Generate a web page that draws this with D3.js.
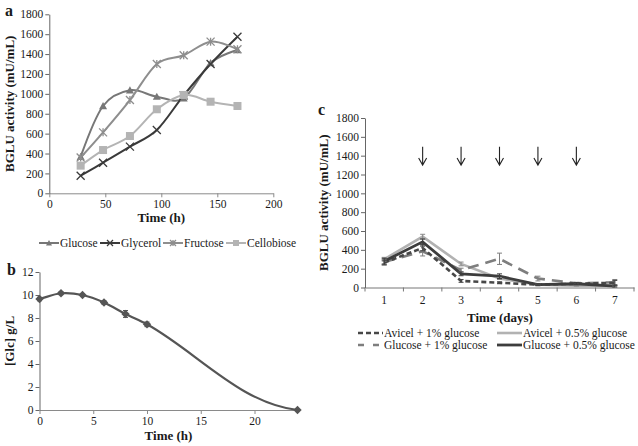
<!DOCTYPE html>
<html><head><meta charset="utf-8">
<script src="https://cdn.jsdelivr.net/npm/d3@7"></script>
<style>
body{margin:0;background:#fff}
text{font-family:"Liberation Serif","Times New Roman",serif;fill:#1a1a1a}
</style>
</head><body>
<svg id="chart" width="638" height="446"></svg>
<script>
// ---------- Panel a data ----------
const timeA = [28, 48, 72, 96, 120, 144, 168];
const glucoseA = [368, 878, 1036, 972, 955, 1310, 1441];
const glycerolA = [177, 308, 469, 637, 985, 1300, 1575];
const fructoseA = [360, 613, 938, 1300, 1388, 1525, 1448];
const cellobioseA = [278, 435, 576, 845, 989, 921, 878];
const yTicksA = [0, 200, 400, 600, 800, 1000, 1200, 1400, 1600, 1800];
const xTicksA = [0, 50, 100, 150, 200];
const seriesNamesA = ["Glucose", "Glycerol", "Fructose", "Cellobiose"];

// ---------- Panel b data ----------
const timeB = [0, 2, 4, 6, 8, 10, 24];
const glcB = [9.65, 10.15, 10.0, 9.35, 8.35, 7.45, 0];
const glcErrB = [0.15, 0.12, 0.1, 0.15, 0.3, 0.2, 0.05];
const yTicksB = [0, 2, 4, 6, 8, 10, 12];
const xTicksB = [0, 5, 10, 15, 20];

// ---------- Panel c data ----------
const daysC = [1, 2, 3, 4, 5, 6, 7];
const avicel1C = [265, 420, 70, 50, 30, 40, 50];
const avicel1Err = [25, 30, 15, 10, 10, 10, 25];
const glucose1C = [270, 385, 185, 305, 95, 45, 55];
const glucose1Err = [30, 50, 20, 60, 25, 10, 30];
const avicel05C = [300, 540, 250, 95, 30, 20, 20];
const avicel05Err = [20, 25, 20, 10, 10, 5, 5];
const glucose05C = [280, 485, 145, 120, 30, 40, 15];
const glucose05Err = [30, 30, 20, 25, 10, 10, 10];
const yTicksC = [0, 200, 400, 600, 800, 1000, 1200, 1400, 1600, 1800];
const arrowDays = [2, 3, 4, 5, 6];
const seriesNamesC = ["Avicel + 1% glucose", "Avicel + 0.5% glucose", "Glucose + 1% glucose", "Glucose + 0.5% glucose"];

const svg = d3.select("#chart");
const smooth = d3.curveCardinal.tension(0);

// Excel-like smoothed curve (Bezier, control arms = 1/3 of segment length)
function excelSmooth(endFlatten) {
  return function(context) {
    let pts;
    return {
      areaStart() {}, areaEnd() {},
      lineStart() { pts = []; },
      point(x, y) { pts.push([+x, +y]); },
      lineEnd() {
        const n = pts.length;
        if (!n) return;
        context.moveTo(pts[0][0], pts[0][1]);
        const tan = pts.map((p, i) => {
          if (i === 0) return [pts[1][0] - p[0], pts[1][1] - p[1]];
          if (i === n - 1) return [p[0] - pts[n - 2][0], (p[1] - pts[n - 2][1]) * endFlatten];
          return [pts[i + 1][0] - pts[i - 1][0], pts[i + 1][1] - pts[i - 1][1]];
        });
        for (let i = 0; i < n - 1; i++) {
          const a = pts[i], b = pts[i + 1];
          const L = Math.hypot(b[0] - a[0], b[1] - a[1]);
          const ta = tan[i], tb = tan[i + 1];
          const la = Math.hypot(ta[0], ta[1]) || 1, lb = Math.hypot(tb[0], tb[1]) || 1;
          context.bezierCurveTo(a[0] + ta[0] / la * L / 3, a[1] + ta[1] / la * L / 3,
            b[0] - tb[0] / lb * L / 3, b[1] - tb[1] / lb * L / 3, b[0], b[1]);
        }
      }
    };
  };
}

function styleAxis(g, color) {
  g.select(".domain").attr("stroke", color);
  g.selectAll(".tick line").attr("stroke", color);
  g.selectAll(".tick text").style("font-size", "11.5px").attr("fill", "#1a1a1a")
    .style("font-family", '"Liberation Serif", serif');
}
const fmt = d3.format("d");

// ================= Panel a =================
const xA = d3.scaleLinear().domain([0, 200]).range([49.3, 273.3]);
const yA = d3.scaleLinear().domain([0, 1800]).range([193.3, 14.3]);
const gA = svg.append("g");

gA.append("g").attr("transform", `translate(0,${yA(0)})`)
  .call(d3.axisBottom(xA).tickValues(xTicksA).tickFormat(fmt).tickSize(4).tickSizeOuter(0).tickPadding(3))
  .call(g => styleAxis(g, "#8a8a8a"));
gA.append("g").attr("transform", `translate(${xA(0)},0)`)
  .call(d3.axisLeft(yA).tickValues(yTicksA).tickFormat(fmt).tickSize(4).tickSizeOuter(0).tickPadding(2))
  .call(g => styleAxis(g, "#666"));

const seriesA = [
  {name: seriesNamesA[0], vals: glucoseA, color: "#777", marker: "tri"},
  {name: seriesNamesA[1], vals: glycerolA, color: "#3a3a3a", marker: "x"},
  {name: seriesNamesA[2], vals: fructoseA, color: "#8e8e8e", marker: "star"},
  {name: seriesNamesA[3], vals: cellobioseA, color: "#b4b4b4", marker: "sq"}
];

function drawMarker(g, type, x, y, color, s) {
  if (type === "tri") {
    g.append("path").attr("d", `M${x},${y - s}L${x + s},${y + s * 0.8}L${x - s},${y + s * 0.8}Z`).attr("fill", color);
  } else if (type === "sq") {
    g.append("rect").attr("x", x - s).attr("y", y - s).attr("width", 2 * s).attr("height", 2 * s).attr("fill", color);
  } else if (type === "x") {
    g.append("path").attr("d", `M${x - s},${y - s}L${x + s},${y + s}M${x - s},${y + s}L${x + s},${y - s}`)
      .attr("stroke", color).attr("stroke-width", 1.3);
  } else if (type === "star") {
    g.append("path").attr("d", `M${x - s},${y - s}L${x + s},${y + s}M${x - s},${y + s}L${x + s},${y - s}M${x},${y - s}L${x},${y + s}`)
      .attr("stroke", color).attr("stroke-width", 1.3);
  } else if (type === "dia") {
    g.append("path").attr("d", `M${x},${y - s}L${x + s},${y}L${x},${y + s}L${x - s},${y}Z`).attr("fill", color);
  }
}

const lineA = d3.line().x((d, i) => xA(timeA[i])).y(d => yA(d)).curve(smooth);
seriesA.forEach(s => {
  gA.append("path").attr("d", lineA(s.vals)).attr("fill", "none").attr("stroke", s.color).attr("stroke-width", 2);
});
seriesA.forEach(s => {
  s.vals.forEach((v, i) => drawMarker(gA, s.marker, xA(timeA[i]), yA(v), s.color, 4));
});

gA.append("text").attr("x", 5).attr("y", 16).style("font-size", "16px").style("font-weight", "bold").text("a");
gA.append("text").attr("transform", `translate(14,${(yA(0) + yA(1800)) / 2}) rotate(-90)`)
  .attr("text-anchor", "middle").style("font-size", "13px").style("font-weight", "bold").text("BGLU activity (mU/mL)");
gA.append("text").attr("x", (xA(0) + xA(200)) / 2).attr("y", 222).attr("text-anchor", "middle")
  .style("font-size", "13px").style("font-weight", "bold").text("Time (h)");

// legend a
const legA = gA.append("g");
const legAx = [39, 100, 163, 226];
seriesA.forEach((s, i) => {
  const x0 = legAx[i], y0 = 243;
  legA.append("line").attr("x1", x0).attr("x2", x0 + 20).attr("y1", y0).attr("y2", y0).attr("stroke", s.color).attr("stroke-width", 2);
  drawMarker(legA, s.marker, x0 + 10, y0, s.color, 3);
  legA.append("text").attr("x", x0 + 21).attr("y", y0 + 4).style("font-size", "11.5px").text(s.name);
});

// ================= Panel b =================
const xB = d3.scaleLinear().domain([0, 24]).range([39.5, 297.5]);
const yB = d3.scaleLinear().domain([0, 12]).range([410, 272]);
const gB = svg.append("g");
gB.append("g").attr("transform", `translate(0,${yB(0)})`)
  .call(d3.axisBottom(xB).tickValues(xTicksB).tickFormat(fmt).tickSize(4).tickSizeOuter(0).tickPadding(3))
  .call(g => styleAxis(g, "#8a8a8a"));
gB.append("g").attr("transform", `translate(${xB(0)},0)`)
  .call(d3.axisLeft(yB).tickValues(yTicksB).tickFormat(fmt).tickSize(4).tickSizeOuter(0).tickPadding(2))
  .call(g => styleAxis(g, "#666"));

const lineB = d3.line().x((d, i) => xB(timeB[i])).y(d => yB(d)).curve(excelSmooth(0.2));
gB.append("path").attr("d", lineB(glcB)).attr("fill", "none").attr("stroke", "#555").attr("stroke-width", 2.2);
glcB.forEach((v, i) => {
  const x = xB(timeB[i]);
  gB.append("path").attr("d", `M${x},${yB(v - glcErrB[i])}V${yB(v + glcErrB[i])}M${x - 2.5},${yB(v - glcErrB[i])}H${x + 2.5}M${x - 2.5},${yB(v + glcErrB[i])}H${x + 2.5}`)
    .attr("stroke", "#555").attr("stroke-width", 1);
  drawMarker(gB, "dia", x, yB(v), "#555", 4.2);
});
gB.append("text").attr("x", 7).attr("y", 275).style("font-size", "16px").style("font-weight", "bold").text("b");
gB.append("text").attr("transform", `translate(14,${(yB(0) + yB(12)) / 2}) rotate(-90)`)
  .attr("text-anchor", "middle").style("font-size", "13px").style("font-weight", "bold").text("[Glc] g/L");
gB.append("text").attr("x", (xB(0) + xB(24)) / 2).attr("y", 440).attr("text-anchor", "middle")
  .style("font-size", "13px").style("font-weight", "bold").text("Time (h)");

// ================= Panel c =================
const xC = d3.scaleBand().domain(daysC).range([365, 634]);
const bw = xC.bandwidth();
const yC = d3.scaleLinear().domain([0, 1800]).range([287.5, 118]);
const gC = svg.append("g");

gC.append("g").attr("transform", `translate(0,${yC(0)})`)
  .call(d3.axisBottom(xC).tickSize(0).tickPadding(8))
  .call(g => styleAxis(g, "#777"));
daysC.concat([null]).forEach(d => {
  const x = d === null ? xC.range()[1] : xC(d);
  gC.append("line").attr("x1", x).attr("x2", x).attr("y1", yC(0)).attr("y2", yC(0) + 4).attr("stroke", "#777");
});
gC.append("g").attr("transform", `translate(365,0)`)
  .call(d3.axisLeft(yC).tickValues(yTicksC).tickFormat(fmt).tickSize(4).tickSizeOuter(0).tickPadding(2))
  .call(g => styleAxis(g, "#666"));

const seriesC = [
  {name: seriesNamesC[1], vals: avicel05C, err: avicel05Err, color: "#b2b2b2", dash: null, w: 2.6, legDash: null},
  {name: seriesNamesC[2], vals: glucose1C, err: glucose1Err, color: "#7e7e7e", dash: "11,7", w: 2.6, legDash: "6,9"},
  {name: seriesNamesC[0], vals: avicel1C, err: avicel1Err, color: "#474747", dash: "5,3", w: 2.6, legDash: "5,3"},
  {name: seriesNamesC[3], vals: glucose05C, err: glucose05Err, color: "#3d3d3d", dash: null, w: 2.8, legDash: null}
];
const cx = d => xC(d) + bw / 2;
const lineC = d3.line().x((d, i) => cx(daysC[i])).y(d => yC(d));
seriesC.forEach(s => {
  gC.append("path").attr("d", lineC(s.vals)).attr("fill", "none").attr("stroke", s.color)
    .attr("stroke-width", s.w).attr("stroke-dasharray", s.dash);
});
seriesC.forEach(s => {
  s.vals.forEach((v, i) => {
    const x = cx(daysC[i]), lo = yC(Math.max(0, v - s.err[i])), hi = yC(v + s.err[i]);
    gC.append("path").attr("d", `M${x},${lo}V${hi}M${x - 2.5},${lo}H${x + 2.5}M${x - 2.5},${hi}H${x + 2.5}`)
      .attr("stroke", s.color === "#b2b2b2" ? "#888" : s.color).attr("stroke-width", 1);
  });
});

// arrows
arrowDays.forEach(d => {
  const x = cx(d), y1 = yC(1495), y2 = yC(1300);
  gC.append("path").attr("d", `M${x},${y1}V${y2}M${x - 4},${y2 - 7}L${x},${y2}L${x + 4},${y2 - 7}`)
    .attr("fill", "none").attr("stroke", "#222").attr("stroke-width", 1.1);
});

gC.append("text").attr("x", 318).attr("y", 115).style("font-size", "16px").style("font-weight", "bold").text("c");
gC.append("text").attr("transform", `translate(328,${(yC(0) + yC(1800)) / 2}) rotate(-90)`)
  .attr("text-anchor", "middle").style("font-size", "13px").style("font-weight", "bold").text("BGLU activity (mU/mL)");
gC.append("text").attr("x", 500).attr("y", 322).attr("text-anchor", "middle")
  .style("font-size", "13px").style("font-weight", "bold").text("Time (days)");

// legend c: row1 Avicel+1%, Avicel+0.5%; row2 Glucose+1%, Glucose+0.5%
const legOrder = [
  {s: seriesC[2], x: 358, y: 333},
  {s: seriesC[0], x: 497, y: 333},
  {s: seriesC[1], x: 358, y: 345},
  {s: seriesC[3], x: 497, y: 345}
];
legOrder.forEach(o => {
  const s = o.s;
  gC.append("line").attr("x1", o.x).attr("x2", o.x + 25).attr("y1", o.y).attr("y2", o.y)
    .attr("stroke", s.color).attr("stroke-width", s.w).attr("stroke-dasharray", s.legDash);
  gC.append("text").attr("x", o.x + 26).attr("y", o.y + 4).style("font-size", "11.5px").text(s.name);
});
</script>
</body></html>
